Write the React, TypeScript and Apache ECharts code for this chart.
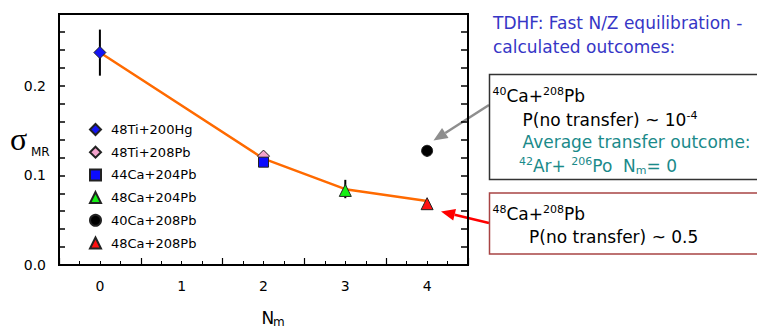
import React, { useEffect, useRef } from 'react';
import * as echarts from 'echarts';

// ---- data ----
const seriesNames = ['48Ti+200Hg', '48Ti+208Pb', '44Ca+204Pb', '48Ca+204Pb', '40Ca+208Pb', '48Ca+208Pb'];
const nmValues = [0, 2, 2, 3, 4, 4];
const sigmaValues = [0.237, 0.1215, 0.1147, 0.0832, 0.1274, 0.0684];
const errLow: (number | null)[] = [0.2112, null, null, 0.0745, 0.121, null];
const errHigh: (number | null)[] = [0.2626, null, null, 0.095, 0.133, null];
const fitNm = [0, 2, 3, 4];
const fitSigma = [0.237, 0.1186, 0.0846, 0.0715];
const xTickLabels = ['0', '1', '2', '3', '4'];
const yTickLabels = ['0.0', '0.1', '0.2'];

// ---- styles ----
const symbols = ['diamond', 'diamond', 'rect', 'triangle', 'circle', 'triangle'];
const symbolSizes = [12, 12, 10, 12, 11, 12];
const colors = ['#1414f5', '#f4a3cd', '#0c0cff', '#14f014', '#000000', '#ff1010'];
const FONT = 'DejaVu Sans';
const BLUE_TXT = '#3636c6';
const TEAL = '#1a8a8a';

function rich(color: string) {
  return {
    n: { fontSize: 17, fontFamily: FONT, lineHeight: 20, color },
    sup: { fontSize: 11, fontFamily: FONT, lineHeight: 9, verticalAlign: 'top', color },
    sub: { fontSize: 11, fontFamily: FONT, lineHeight: 8, verticalAlign: 'bottom', color },
  };
}

function richText(x: number, baseline: number, text: string, color: string) {
  return {
    type: 'text',
    x,
    y: baseline - 6,
    z: 10,
    style: {
      text,
      rich: rich(color),
      fill: color,
      font: `17px "${FONT}"`,
      align: 'left',
      verticalAlign: 'middle',
    },
  };
}

function arrow(x1: number, y1: number, x2: number, y2: number, color: string) {
  const dx = x2 - x1;
  const dy = y2 - y1;
  const len = Math.sqrt(dx * dx + dy * dy);
  const ux = dx / len;
  const uy = dy / len;
  const hl = 14;
  const hw = 6;
  const bx = x2 - ux * hl;
  const by = y2 - uy * hl;
  return {
    type: 'group',
    children: [
      { type: 'line', shape: { x1, y1, x2: bx, y2: by }, style: { stroke: color, lineWidth: 2.5 } },
      {
        type: 'polygon',
        shape: { points: [[x2, y2], [bx - uy * hw, by + ux * hw], [bx + uy * hw, by - ux * hw]] },
        style: { fill: color },
      },
    ],
  };
}

export default function App() {
  const ref = useRef<HTMLDivElement>(null);
  useEffect(() => {
    document.body.style.margin = '0';
    if (!ref.current) return;
    const chart = echarts.init(ref.current, null, { renderer: 'svg' });

    const errData = nmValues
      .map((x, i) => (errLow[i] != null ? [x, errLow[i], errHigh[i]] : null))
      .filter((d) => d !== null);

    const scatterSeries = seriesNames.map((name, i) => ({
      name,
      type: 'scatter',
      symbol: symbols[i],
      symbolSize: symbolSizes[i],
      itemStyle: { color: colors[i], borderColor: '#222', borderWidth: 1, opacity: 1 },
      data: [[nmValues[i], sigmaValues[i]]],
      z: 5,
    }));

    const option: any = {
      animation: false,
      backgroundColor: '#fff',
      textStyle: { fontFamily: FONT },
      grid: {
        left: 59,
        right: 289,
        top: 14,
        bottom: 65,
        show: true,
        borderColor: '#000',
        borderWidth: 2,
        backgroundColor: 'transparent',
      },
      legend: {
        orient: 'vertical',
        left: 89,
        top: 123,
        padding: 0,
        itemWidth: 11,
        itemHeight: 11,
        itemGap: 9.7,
        data: seriesNames,
        textStyle: { fontSize: 13, fontFamily: FONT, color: '#000', padding: [0, 0, 0, 5] },
      },
      xAxis: [
        {
          type: 'value',
          min: -0.5,
          max: 4.5,
          interval: 0.5,
          position: 'bottom',
          axisLine: { show: true, onZero: false, lineStyle: { color: '#000', width: 2 } },
          axisTick: { show: true, inside: true, length: 4, lineStyle: { color: '#000', width: 1 } },
          minorTick: { show: true, splitNumber: 2, length: 4, lineStyle: { color: '#000', width: 1 } },
          splitLine: { show: false },
          axisLabel: {
            margin: 14,
            fontSize: 14,
            fontFamily: FONT,
            color: '#000',
            formatter: (v: number) => {
              const r = Math.round(v);
              return Math.abs(v - r) < 1e-6 && r >= 0 ? xTickLabels[r] ?? '' : '';
            },
          },
        },
        {
          type: 'value',
          min: 0,
          max: 5,
          interval: 1,
          position: 'bottom',
          offset: 0,
          axisLine: { show: false, onZero: false },
          axisTick: { show: true, inside: true, length: 7, lineStyle: { color: '#000', width: 1.2 } },
          axisLabel: { show: false },
          splitLine: { show: false },
        },
      ],
      yAxis: [
        {
          type: 'value',
          min: 0,
          max: 0.28,
          interval: 0.02,
          position: 'left',
          axisLine: { show: true, onZero: false, lineStyle: { color: '#000', width: 2 } },
          axisTick: { show: true, inside: true, length: 6, lineStyle: { color: '#000', width: 1.5 } },
          splitLine: { show: false },
          axisLabel: {
            margin: 13,
            fontSize: 14,
            fontFamily: FONT,
            color: '#000',
            formatter: (v: number) => {
              const k = Math.round(v * 10);
              return Math.abs(v * 10 - k) < 1e-6 ? yTickLabels[k] ?? '' : '';
            },
          },
        },
        {
          type: 'value',
          min: 0,
          max: 0.28,
          interval: 0.02,
          position: 'right',
          axisLine: { show: true, onZero: false, lineStyle: { color: '#000', width: 2 } },
          axisTick: { show: true, inside: true, length: 7, lineStyle: { color: '#000', width: 1.5 } },
          splitLine: { show: false },
          axisLabel: { show: false },
        },
      ],
      series: [
        {
          name: 'fit',
          type: 'line',
          data: fitNm.map((x, i) => [x, fitSigma[i]]),
          symbol: 'none',
          lineStyle: { color: '#ff6a00', width: 2.5 },
          z: 1,
        },
        {
          name: 'errors',
          type: 'custom',
          data: errData,
          encode: { x: 0, y: [1, 2] },
          z: 2,
          renderItem: (_params: any, api: any) => {
            const x = api.value(0);
            const lo = api.coord([x, api.value(1)]);
            const hi = api.coord([x, api.value(2)]);
            return {
              type: 'line',
              shape: { x1: lo[0], y1: lo[1], x2: hi[0], y2: hi[1] },
              style: { stroke: '#000', lineWidth: 2 },
            };
          },
        },
        ...scatterSeries,
      ],
      graphic: [
        // axis titles
        {
          type: 'text', x: 10, y: 139, z: 10,
          style: { text: 'σ', font: '32px "Liberation Serif"', fill: '#000', align: 'left', verticalAlign: 'middle' },
        },
        {
          type: 'text', x: 31, y: 151.5, z: 10,
          style: { text: 'MR', font: `12px "${FONT}"`, fill: '#000', align: 'left', verticalAlign: 'middle' },
        },
        {
          type: 'text', x: 261.5, y: 318, z: 10,
          style: { text: 'N', font: `17px "${FONT}"`, fill: '#000', align: 'left', verticalAlign: 'middle' },
        },
        {
          type: 'text', x: 273, y: 322, z: 10,
          style: { text: 'm', font: `12px "${FONT}"`, fill: '#000', align: 'left', verticalAlign: 'middle' },
        },
        // heading
        richText(493, 28.5, '{n|TDHF: Fast N/Z equilibration -}', BLUE_TXT),
        richText(493, 53, '{n|calculated outcomes:}', BLUE_TXT),
        // arrows
        arrow(489, 105, 433.5, 140.5, '#8e8e8e'),
        arrow(489, 223, 441, 211.5, '#ff0000'),
        // boxes
        {
          type: 'rect', z: 5,
          shape: { x: 489.5, y: 74.5, width: 300, height: 105 },
          style: { fill: '#fff', stroke: '#333', lineWidth: 1.5 },
        },
        {
          type: 'rect', z: 5,
          shape: { x: 489.5, y: 193, width: 300, height: 61 },
          style: { fill: '#fff', stroke: '#a84444', lineWidth: 1.5 },
        },
        richText(492.5, 101.5, '{sup|40}{n|Ca+}{sup|208}{n|Pb}', '#000'),
        richText(522.5, 125.5, '{n|P(no transfer) ~ 10}{sup|-4}', '#000'),
        richText(522.5, 148, '{n|Average transfer outcome:}', TEAL),
        richText(519, 172, '{sup|42}{n|Ar+ }{sup|206}{n|Po  N}{sub|m}{n|= 0}', TEAL),
        richText(492.5, 219.5, '{sup|48}{n|Ca+}{sup|208}{n|Pb}', '#000'),
        richText(529, 243, '{n|P(no transfer) ~ 0.5}', '#000'),
      ],
    };

    chart.setOption(option);
    return () => chart.dispose();
  }, []);

  return <div ref={ref} style={{ width: 757, height: 330 }} />;
}
